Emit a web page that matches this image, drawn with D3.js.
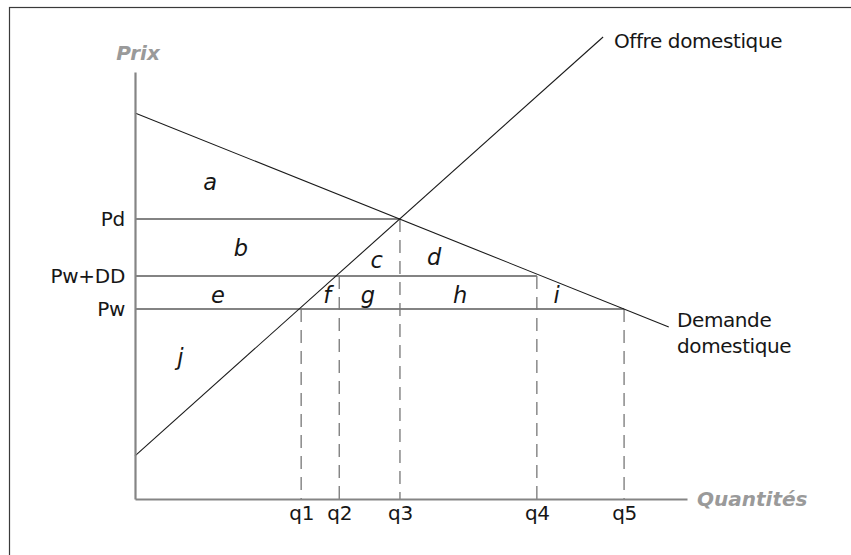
<!DOCTYPE html>
<html>
<head>
<meta charset="utf-8">
<script src="https://d3js.org/d3.v7.min.js"></script>
<style>
  body { margin: 0; background: #fff; }
  svg text { font-family: "DejaVu Sans", sans-serif; }
</style>
</head>
<body>
<div id="chart"></div>
<script>
// quantities on the x axis (chart units, 0-100)
const qLabels = ["q1", "q2", "q3", "q4", "q5"];
const qValues = [30.1, 37.0, 48.0, 72.8, 88.6];

// prices on the y axis
const pLabels = ["Pw", "Pw+DD", "Pd"];
const pValues = [44.5, 52.2, 65.6];

// where each price line stops, and where each dashed line starts
const priceLineEnds = [88.6, 72.8, 48.0];
const dashTops = [44.5, 52.2, 65.6, 52.2, 44.5];

// the two curves, as [quantity, price]
const supply = [[0, 10.1], [84.8, 108.2]];
const demand = [[0, 90.4], [96.7, 40.3]];

// area letters, placed in chart units
const areaNames = ["a", "b", "c", "d", "e", "f", "g", "h", "i", "j"];
const areaQ = [13.6, 19.2, 43.8, 54.2, 15.0, 34.8, 42.2, 58.9, 76.4, 8.2];
const areaP = [74.2, 58.8, 56.0, 56.7, 47.8, 47.8, 47.8, 47.8, 47.8, 33.3];

const W = 851, H = 555;
const textCol = "#161616";
const svg = d3.select("#chart").append("svg")
    .attr("width", W)
    .attr("height", H);

// frame (only left and top edges fall in the picture)
svg.append("rect")
    .attr("x", 9.5).attr("y", 7.5)
    .attr("width", 900).attr("height", 600)
    .attr("fill", "none")
    .attr("stroke", "#3a3a3a")
    .attr("stroke-width", 1.2);

const x = d3.scaleLinear().domain([0, 100]).range([135, 687]);
const y = d3.scaleLinear().domain([0, 100]).range([499, 72]);

// price lines
svg.append("g").selectAll("line")
  .data(pValues)
  .join("line")
    .attr("x1", x(0))
    .attr("x2", (d, i) => x(priceLineEnds[i]))
    .attr("y1", d => y(d))
    .attr("y2", d => y(d))
    .attr("stroke", "#5a5a5a")
    .attr("stroke-width", 1.5);

// dashed drop lines
svg.append("g").selectAll("line")
  .data(qValues)
  .join("line")
    .attr("x1", d => x(d))
    .attr("x2", d => x(d))
    .attr("y1", (d, i) => y(dashTops[i]))
    .attr("y2", y(0))
    .attr("stroke", "#777")
    .attr("stroke-width", 1.3)
    .attr("stroke-dasharray", "13,8");

// supply and demand
const line = d3.line().x(d => x(d[0])).y(d => y(d[1]));
[supply, demand].forEach(c => {
  svg.append("path")
    .datum(c)
    .attr("fill", "none")
    .attr("stroke", "#1a1a1a")
    .attr("stroke-width", 1.1)
    .attr("d", line);
});

// axes
const xAxis = svg.append("g")
    .attr("transform", `translate(0,${y(0)})`)
    .call(d3.axisBottom(x).tickValues(qValues)
      .tickFormat((d, i) => qLabels[i])
      .tickSize(0).tickSizeOuter(0).tickPadding(7));
const yAxis = svg.append("g")
    .attr("transform", `translate(${x(0)},0)`)
    .call(d3.axisLeft(y).tickValues(pValues)
      .tickFormat((d, i) => pLabels[i])
      .tickSize(0).tickSizeOuter(0).tickPadding(10));
[xAxis, yAxis].forEach(a => {
  a.select(".domain").attr("stroke", "#858585").attr("stroke-width", 2.2);
  a.selectAll("text")
    .attr("font-family", "DejaVu Sans")
    .attr("font-size", 20)
    .attr("letter-spacing", -0.3)
    .attr("fill", textCol);
});

// area letters
svg.append("g").selectAll("text")
  .data(areaNames)
  .join("text")
    .attr("x", (d, i) => x(areaQ[i]))
    .attr("y", (d, i) => y(areaP[i]))
    .attr("text-anchor", "middle")
    .attr("dominant-baseline", "central")
    .attr("font-style", "italic")
    .attr("font-size", 22.5)
    .attr("fill", textCol)
    .text(d => d);

// axis titles
svg.append("text")
    .attr("x", 138).attr("y", 60)
    .attr("text-anchor", "middle")
    .attr("font-weight", "bold").attr("font-style", "italic")
    .attr("font-size", 20)
    .attr("fill", "#9a9a9a")
    .text("Prix");
svg.append("text")
    .attr("x", 697).attr("y", 506)
    .attr("font-weight", "bold").attr("font-style", "italic")
    .attr("font-size", 20)
    .attr("fill", "#9a9a9a")
    .text("Quantités");

// curve names
svg.append("text")
    .attr("x", 614).attr("y", 48)
    .attr("font-size", 20)
    .attr("letter-spacing", -0.4)
    .attr("fill", textCol)
    .text("Offre domestique");
const dem = svg.append("text")
    .attr("font-size", 20)
    .attr("letter-spacing", -0.4)
    .attr("fill", textCol);
dem.append("tspan").attr("x", 677).attr("y", 327).text("Demande");
dem.append("tspan").attr("x", 677).attr("y", 353).text("domestique");
</script>
</body>
</html>
